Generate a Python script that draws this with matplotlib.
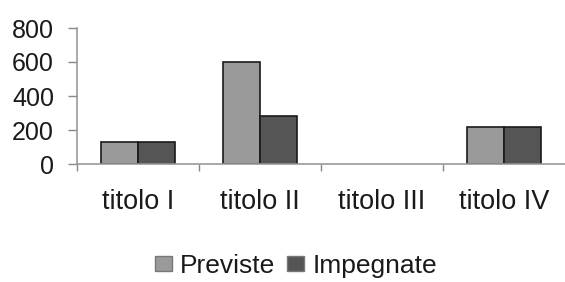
import matplotlib
matplotlib.use("Agg")
import matplotlib.pyplot as plt
import numpy as np

categories = ["titolo I", "titolo II", "titolo III", "titolo IV"]
previste = [130, 600, 0, 220]
impegnate = [130, 280, 0, 220]
series_names = ["Previste", "Impegnate"]
yticks = [0, 200, 400, 600, 800]

plt.rcParams['font.family'] = ['Liberation Sans', 'DejaVu Sans']

fig = plt.figure(figsize=(5.65, 2.82), dpi=100)
ax = fig.add_axes([77/565, 1-164/282, (565-77)/565, (164-28)/282])

x = np.arange(len(categories))
w = 0.3
b1 = ax.bar(x - w/2, previste, w, color="#9a9a9a", edgecolor="#1a1a1a", linewidth=1.2, label=series_names[0])
b2 = ax.bar(x + w/2, impegnate, w, color="#555555", edgecolor="#1a1a1a", linewidth=1.2, label=series_names[1])
for bars in (b1, b2):
    for p in bars.patches:
        if p.get_height() == 0:
            p.set_visible(False)

ax.set_xlim(-0.5, len(categories) - 0.5)
ax.set_ylim(0, 800)
ax.set_yticks(yticks)
ax.set_yticklabels([str(v) for v in yticks], fontsize=18, color="#1a1a1a")
ax.set_xticks(x)
ax.set_xticklabels(categories, fontsize=19.5, color="#1a1a1a")
ax.tick_params(axis='x', which='major', length=0, pad=18)
ax.set_xticks(np.arange(len(categories)) - 0.5, minor=True)
ax.tick_params(axis='x', which='minor', length=5, color="#888888", width=1)
ax.tick_params(axis='y', length=6.5, color="#888888", width=1, pad=10)

for s in ['top', 'right']:
    ax.spines[s].set_visible(False)
for s in ['left', 'bottom']:
    ax.spines[s].set_color("#999999")
    ax.spines[s].set_linewidth(1.2)

leg = fig.legend(loc='center', bbox_to_anchor=(296/565, 1-266/282), ncol=2, frameon=False,
                 fontsize=19, handlelength=0.65, handleheight=0.5, handletextpad=0.3,
                 columnspacing=0.45, borderpad=0)
for t in leg.get_texts():
    t.set_color("#1a1a1a")
for h in leg.legend_handles:
    h.set_edgecolor("#777777")
    h.set_linewidth(1.0)

fig.savefig("out.png", dpi=100)
